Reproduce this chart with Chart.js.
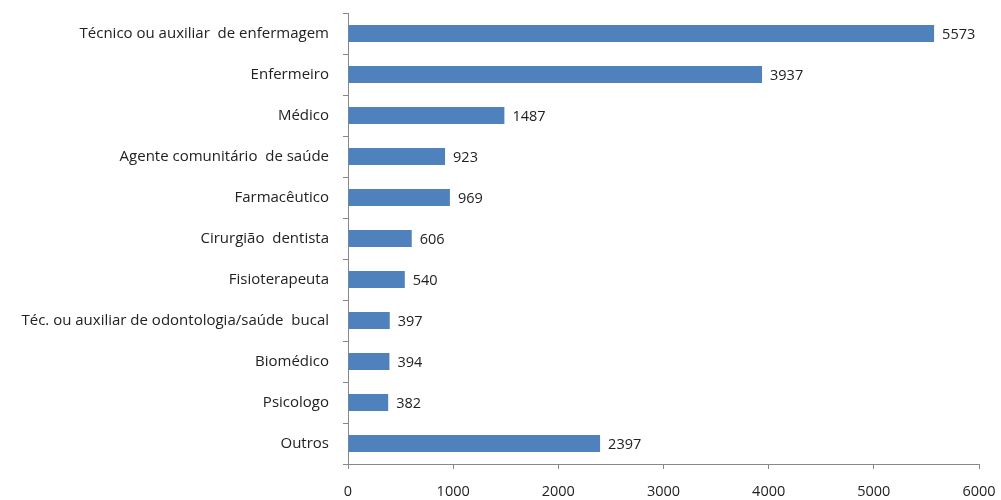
<!DOCTYPE html>
<html>
<head>
<meta charset="utf-8">
<script src="https://cdn.jsdelivr.net/npm/chart.js@4"></script>
<style>
  body { margin: 0; background: #fff; }
  #wrap { width: 1001px; height: 500px; }
</style>
</head>
<body>
<div id="wrap"><canvas id="mycanvas" width="1001" height="500"></canvas></div>
<script>
var profissoes = [
  "Técnico ou auxiliar  de enfermagem",
  "Enfermeiro",
  "Médico",
  "Agente comunitário  de saúde",
  "Farmacêutico",
  "Cirurgião  dentista",
  "Fisioterapeuta",
  "Téc. ou auxiliar de odontologia/saúde  bucal",
  "Biomédico",
  "Psicologo",
  "Outros"
];
var totais = [5573, 3937, 1487, 923, 969, 606, 540, 397, 394, 382, 2397];
var xTicks = [0, 1000, 2000, 3000, 4000, 5000, 6000];

// writes the value just right of each bar
var valueLabels = {
  id: 'valueLabels',
  afterDatasetsDraw: function(chart) {
    var ctx = chart.ctx;
    var meta = chart.getDatasetMeta(0);
    ctx.save();
    ctx.font = '14.5px "Open Sans", sans-serif';
    ctx.fillStyle = '#222';
    ctx.textBaseline = 'middle';
    ctx.textAlign = 'left';
    meta.data.forEach(function(bar, i) {
      ctx.fillText(totais[i], bar.x + 8, bar.y + 1);
    });
    ctx.restore();
  }
};

var ctx = document.getElementById('mycanvas');
var myChart = new Chart(ctx, {
  type: 'bar',
  data: {
    labels: profissoes,
    datasets: [{
      data: totais,
      backgroundColor: '#4F81BD',
      borderWidth: 0,
      barPercentage: 0.41,
      categoryPercentage: 1
    }]
  },
  options: {
    indexAxis: 'y',
    responsive: false,
    animation: false,
    plugins: {
      legend: { display: false },
      tooltip: { enabled: false }
    },
    layout: {
      padding: { top: 13, right: 22, left: 0, bottom: 0 }
    },
    scales: {
      x: {
        min: 0,
        max: 6000,
        afterBuildTicks: function(scale) {
          scale.ticks = xTicks.map(function(v) { return { value: v }; });
        },
        afterFit: function(scale) {
          scale.height = 36;
          scale.paddingLeft = 0;
          scale.paddingRight = 0;
        },
        grid: {
          drawOnChartArea: false,
          tickLength: 5,
          color: '#888'
        },
        border: { color: '#888' },
        ticks: {
          color: '#222',
          padding: 14,
          maxRotation: 0,
          callback: function(v) { return String(v); },
          font: { family: '"Open Sans", sans-serif', size: 14.5 }
        }
      },
      y: {
        afterFit: function(scale) {
          scale.width = 348;
          scale.paddingTop = 0;
          scale.paddingBottom = 0;
        },
        grid: {
          drawOnChartArea: false,
          offset: true,
          tickLength: 5,
          color: '#888'
        },
        border: { color: '#888' },
        ticks: {
          color: '#222',
          padding: 14,
          font: { family: '"Open Sans", sans-serif', size: 15 }
        }
      }
    }
  },
  plugins: [valueLabels]
});
</script>
</body>
</html>
